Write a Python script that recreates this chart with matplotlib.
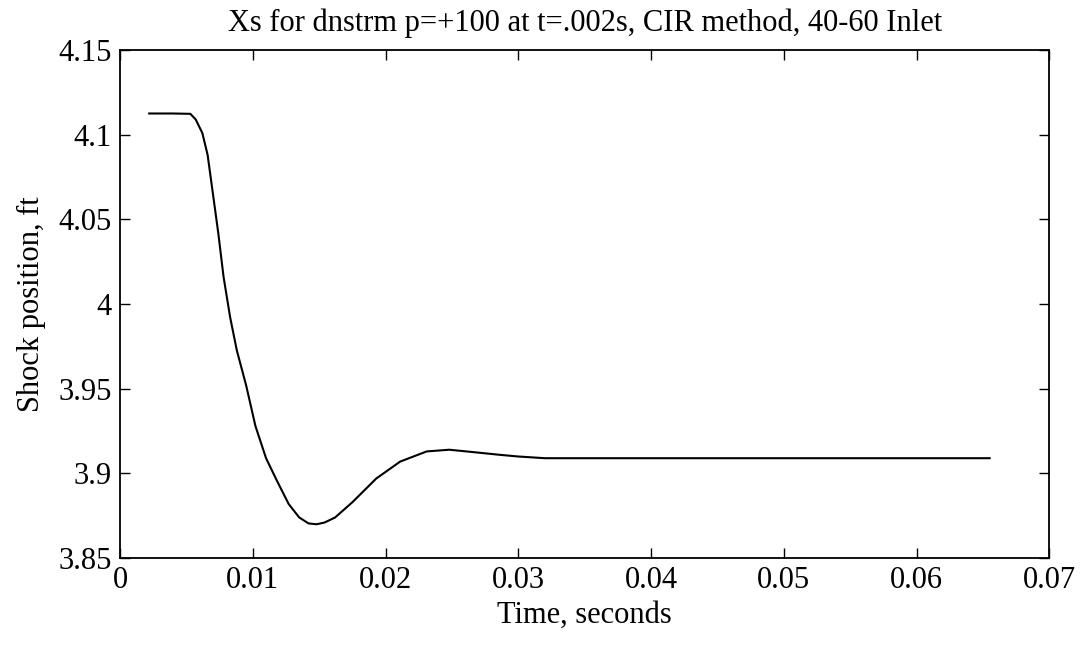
import matplotlib.pyplot as plt

plt.rcParams['font.family'] = ['Liberation Serif', 'DejaVu Serif']

# shock position vs time
time_s = [0.0022, 0.0040, 0.0053, 0.0057, 0.0062, 0.0066, 0.0070, 0.0074,
          0.0078, 0.0083, 0.0088, 0.0095, 0.0102, 0.0110, 0.0118, 0.0127,
          0.0135, 0.0142, 0.0148, 0.0154, 0.0162, 0.0175, 0.0193, 0.0211,
          0.0231, 0.0248, 0.0261, 0.0286, 0.0300, 0.0320, 0.0400, 0.0500,
          0.0600, 0.0655]
shock_ft = [4.1125, 4.1125, 4.1123, 4.1090, 4.1010, 4.0880, 4.0650, 4.0420,
            4.0160, 3.9920, 3.9726, 3.9520, 3.9280, 3.9090, 3.8960, 3.8820,
            3.8740, 3.8705, 3.8700, 3.8710, 3.8740, 3.8830, 3.8970, 3.9070,
            3.9130, 3.9140, 3.9130, 3.9110, 3.9100, 3.9090, 3.9090, 3.9090,
            3.9090, 3.9090]

x_ticks = [0, 0.01, 0.02, 0.03, 0.04, 0.05, 0.06, 0.07]
x_labels = ['0', '0.01', '0.02', '0.03', '0.04', '0.05', '0.06', '0.07']
y_ticks = [3.85, 3.9, 3.95, 4.0, 4.05, 4.1, 4.15]
y_labels = ['3.85', '3.9', '3.95', '4', '4.05', '4.1', '4.15']

fig = plt.figure(figsize=(10.87, 6.49), dpi=100)
ax = fig.add_axes([0.1104, 0.140, 0.855, 0.783])

ax.plot(time_s, shock_ft, color='black', linewidth=1.5)

ax.set_xlim(0, 0.07)
ax.set_ylim(3.85, 4.15)
ax.set_xticks(x_ticks)
ax.set_xticklabels(x_labels)
ax.set_yticks(y_ticks)
ax.set_yticklabels(y_labels)
ax.tick_params(direction='in', length=7, width=1, top=True, right=True,
               labelsize=22, pad=6)
for spine in ax.spines.values():
    spine.set_linewidth(1.3)

ax.set_title('Xs for dnstrm p=+100 at t=.002s, CIR method, 40-60 Inlet',
             fontsize=22, pad=14)
ax.set_xlabel('Time, seconds', fontsize=22, labelpad=4)
ax.set_ylabel('Shock position, ft', fontsize=22, labelpad=9)

fig.savefig('out.png', dpi=100)
